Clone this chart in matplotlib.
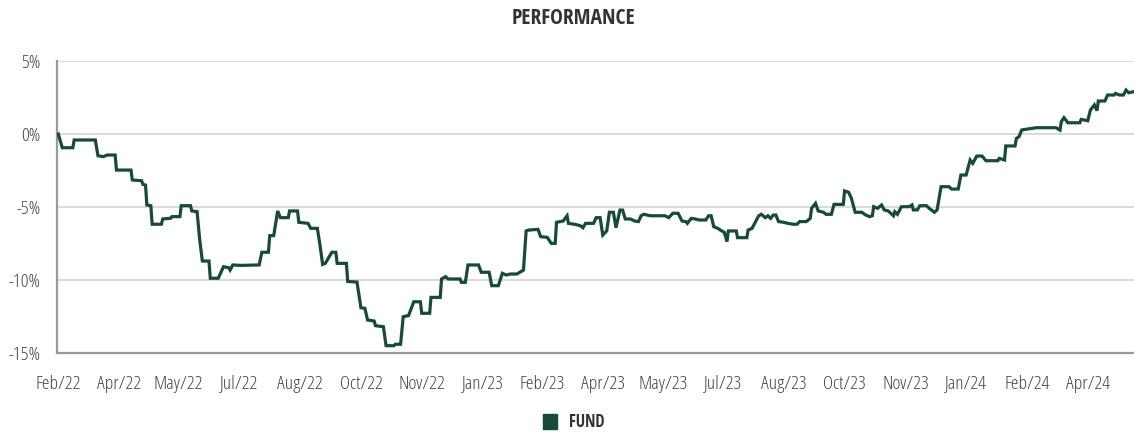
import numpy as np
import pandas as pd
import matplotlib
matplotlib.use("Agg")
import matplotlib.pyplot as plt
from matplotlib.patches import Patch
from matplotlib import font_manager as fm

# ---------------- data ----------------
start_date = "2022-02-17"
# days since start_date
day = [0, 3, 11, 12, 28, 30, 34, 37, 43, 44, 55, 56, 63, 64, 66, 67, 70, 71, 78, 79,
       85, 86, 92, 93, 100, 101, 105, 107, 109, 114, 115, 121, 125, 129, 130, 132, 138,
       152, 154, 159, 160, 163, 166, 168, 174, 175, 181, 182, 189, 191, 196, 198, 200,
       202, 207, 210, 211, 218, 219, 226, 229, 232, 234, 239, 240, 246, 248, 254, 255,
       259, 261, 265, 269, 274, 275, 281, 282, 289, 290, 293, 295, 304, 305, 308, 310,
       318, 320, 326, 328, 333, 336, 339, 342, 347, 350, 352, 354, 356, 363, 365, 370,
       373, 376, 377, 382, 385, 386, 391, 395, 397, 399, 405, 407, 410, 412, 415, 417,
       420, 422, 425, 427, 429, 433, 436, 439, 441, 443, 448, 459, 462, 465, 469, 472,
       475, 476, 479, 482, 485, 490, 492, 494, 496, 499, 501, 504, 506, 507, 513, 514,
       521, 522, 525, 527, 530, 532, 535, 537, 539, 541, 543, 545, 549, 552, 556, 559,
       561, 566, 569, 570, 573, 575, 579, 581, 585, 587, 594, 595, 598, 600, 603, 608,
       611, 614, 616, 617, 620, 623, 625, 628, 632, 633, 635, 638, 644, 646, 647, 650,
       652, 657, 659, 663, 665, 668, 674, 676, 681, 683, 687, 690, 692, 695, 699, 702,
       711, 712, 716, 717, 724, 725, 727, 729, 732, 740, 755, 758, 759, 761, 764, 773,
       774, 779, 781, 784, 786, 787, 792, 794, 799, 800, 803, 806, 808, 810, 814]
fund = [0.00, -0.94, -0.94, -0.41, -0.41, -1.49, -1.55, -1.44, -1.44, -2.47, -2.47, -3.15,
        -3.20, -3.45, -3.50, -4.86, -4.91, -6.18, -6.18, -5.82, -5.77, -5.66, -5.66, -4.91,
        -4.91, -5.27, -5.32, -7.26, -8.70, -8.70, -9.88, -9.88, -9.09, -9.16, -9.32, -8.97,
        -9.00, -8.97, -8.10, -8.10, -6.96, -6.96, -5.27, -5.73, -5.73, -5.27, -5.27, -6.05,
        -6.12, -6.46, -6.46, -7.60, -8.93, -8.86, -8.10, -8.10, -8.86, -8.86, -10.10,
        -10.14, -11.90, -11.94, -12.74, -12.81, -13.13, -13.20, -14.50, -14.50, -14.40,
        -14.40, -12.51, -12.44, -11.49, -11.49, -12.28, -12.28, -11.19, -11.19, -9.93,
        -9.77, -9.93, -9.93, -10.16, -10.16, -8.97, -8.97, -9.47, -9.47, -10.39, -10.39,
        -9.54, -9.66, -9.59, -9.59, -9.43, -9.32, -6.64, -6.58, -6.53, -7.03, -7.08,
        -7.49, -7.49, -6.05, -5.96, -5.60, -6.12, -6.19, -6.28, -6.42, -6.12, -6.12,
        -5.73, -5.73, -6.92, -6.64, -5.36, -5.36, -6.42, -5.21, -5.21, -5.82, -5.82,
        -5.96, -6.00, -5.60, -5.50, -5.60, -5.60, -5.73, -5.43, -5.43, -5.96, -6.00,
        -6.12, -5.78, -5.82, -5.89, -5.89, -5.60, -5.60, -6.35, -6.46, -6.58, -6.74,
        -7.37, -6.64, -6.64, -7.10, -7.10, -6.58, -6.46, -6.12, -5.60, -5.50, -5.73,
        -5.60, -5.78, -5.55, -5.55, -6.00, -6.05, -6.12, -6.18, -6.18, -6.00, -6.00,
        -5.78, -5.09, -4.75, -5.27, -5.36, -5.50, -5.50, -4.82, -4.82, -3.90, -3.99,
        -4.36, -5.36, -5.36, -5.55, -5.66, -5.60, -4.98, -5.09, -4.86, -5.20, -5.27,
        -5.60, -5.32, -5.50, -4.98, -4.98, -4.86, -5.20, -5.20, -4.91, -4.91, -5.09,
        -5.36, -5.20, -3.61, -3.61, -3.77, -3.77, -2.81, -2.81, -1.78, -2.01, -1.51,
        -1.51, -1.83, -1.83, -1.67, -1.78, -0.82, -0.82, -0.30, -0.18, 0.27, 0.32, 0.43,
        0.43, 0.27, 0.84, 1.12, 0.77, 0.77, 1.00, 0.91, 1.64, 1.99, 1.60, 2.26, 2.26,
        2.67, 2.67, 2.78, 2.67, 2.67, 3.01, 2.83, 2.90]
tick_dates = ["2022-02-17", "2022-04-04", "2022-05-19", "2022-07-04", "2022-08-19",
              "2022-10-04", "2022-11-19", "2023-01-04", "2023-02-18", "2023-04-05",
              "2023-05-21", "2023-07-05", "2023-08-20", "2023-10-05", "2023-11-20",
              "2024-01-05", "2024-02-20", "2024-04-06"]
y_ticks = [5, 0, -5, -10, -15]
series_name = "FUND"
title = "PERFORMANCE"

# ---------------- fonts ----------------
fonts = fm.fontManager.ttflist
names = {f.name for f in fonts}
cands = ["Open Sans Condensed", "Liberation Sans Narrow", "Roboto Condensed",
         "Open Sans", "DejaVu Sans"]
fam = next(c for c in cands if c in names)
plt.rcParams["font.family"] = [fam, "DejaVu Sans"]


def wnum(w):
    if isinstance(w, (int, float)):
        return w
    return {"light": 300, "normal": 400, "regular": 400, "book": 400,
            "medium": 500}.get(str(w).lower(), 700)


def is_cond(f):
    return ("condensed" in f.name.lower() or "narrow" in f.name.lower()
            or str(f.stretch).lower() in ("condensed", "semi-condensed",
                                          "extra-condensed", "ultra-condensed")
            or (isinstance(f.stretch, int) and f.stretch < 500))


light_faces = [f for f in fonts if is_cond(f) and wnum(f.weight) <= 400
               and "italic" not in f.fname.lower() and f.style == "normal"]


def rank(f):
    r = 0 if "open sans" in f.name.lower() else (1 if "narrow" in f.name.lower() else 2)
    return (r, abs(wnum(f.weight) - 300))


light_faces.sort(key=rank)
if light_faces:
    tick_prop = fm.FontProperties(fname=light_faces[0].fname)
else:
    tick_prop = fm.FontProperties(family=fam)

# ---------------- plot ----------------
dates = pd.to_datetime(start_date) + pd.to_timedelta(day, unit="D")
tdates = pd.to_datetime(tick_dates)

W, H = 1134, 432
fig = plt.figure(figsize=(W / 100, H / 100), dpi=100)
ax = fig.add_axes([57 / W, 1 - 353 / H, (W - 57) / W, (353 - 61) / H])

line_color = "#174a38"
ax.plot(dates, fund, color=line_color, lw=2.3, solid_joinstyle="miter", zorder=3)

ax.set_ylim(-15, 5)
ax.set_xlim(pd.to_datetime(start_date) - pd.Timedelta(days=1), dates[-1])
ax.set_yticks(y_ticks)
ax.set_yticklabels([f"{v}%" for v in y_ticks])
ax.set_xticks(tdates)
ax.set_xticklabels([d.strftime("%b/%y") for d in tdates])
for lab in ax.get_xticklabels() + ax.get_yticklabels():
    lab.set_fontproperties(tick_prop)
    lab.set_fontsize(14)

ax.grid(axis="y", color="#d9d9d9", lw=1.4, zorder=0)
ax.grid(axis="x", visible=False)
for s in ["top", "right"]:
    ax.spines[s].set_visible(False)
for s in ["left", "bottom"]:
    ax.spines[s].set_color("#9a9a9a")
    ax.spines[s].set_linewidth(1.6)
ax.tick_params(axis="both", length=0, colors="#444444")
ax.tick_params(axis="y", pad=12)
ax.tick_params(axis="x", pad=15.5)

fig.text(573.5 / W, 1 - 18 / H, title, ha="center", va="center",
         fontsize=15.5, fontweight="bold", color="#333333")

handle = Patch(facecolor=line_color, edgecolor=line_color)
fig.legend(handles=[handle], labels=[series_name], loc="center",
           bbox_to_anchor=(574 / W, 1 - 422 / H), frameon=False,
           handlelength=0.85, handleheight=1.0, handletextpad=0.7,
           prop={"weight": "bold", "size": 12}, labelcolor="#333333")

fig.savefig("out.png", dpi=100)
